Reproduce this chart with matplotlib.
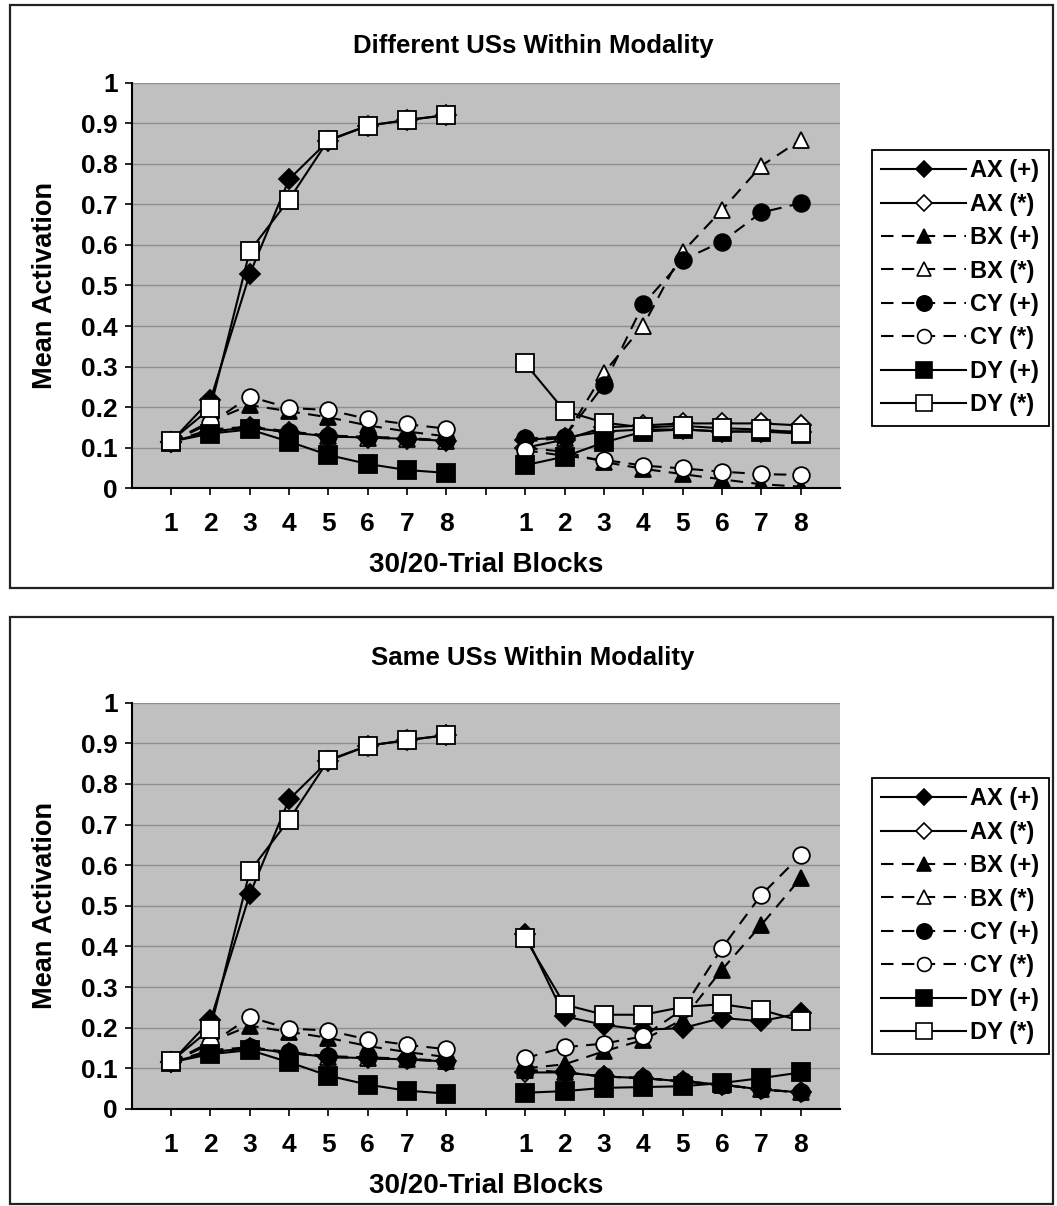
import numpy as np
import matplotlib
matplotlib.use("Agg")
import matplotlib.pyplot as plt
from matplotlib.patches import Rectangle
from matplotlib.lines import Line2D

plt.rcParams['font.family'] = ['Liberation Sans', 'DejaVu Sans']
plt.rcParams['font.weight'] = 'bold'

# block labels: 8 blocks, an empty slot, 8 blocks
block_labels = ['1', '2', '3', '4', '5', '6', '7', '8', '',
                '1', '2', '3', '4', '5', '6', '7', '8']
series_names = ['AX (+)', 'AX (*)', 'BX (+)', 'BX (*)',
                'CY (+)', 'CY (*)', 'DY (+)', 'DY (*)']

# phase 1 (identical in both panels)
p1_ax_plus = [0.115, 0.218, 0.528, 0.762, 0.857, 0.894, 0.908, 0.920]
p1_ax_star = [0.115, 0.140, 0.150, 0.138, 0.128, 0.125, 0.122, 0.117]
p1_bx_plus = [0.115, 0.165, 0.205, 0.190, 0.175, 0.155, 0.140, 0.128]
p1_bx_star = [0.115, 0.140, 0.150, 0.138, 0.128, 0.125, 0.122, 0.117]
p1_cy_plus = [0.115, 0.145, 0.152, 0.140, 0.130, 0.127, 0.124, 0.118]
p1_cy_star = [0.115, 0.160, 0.226, 0.198, 0.193, 0.171, 0.158, 0.147]
p1_dy_plus = [0.115, 0.135, 0.145, 0.115, 0.082, 0.060, 0.045, 0.038]
p1_dy_star = [0.117, 0.197, 0.585, 0.712, 0.859, 0.894, 0.908, 0.920]

# phase 2, different USs within modality
diff_ax_plus = [0.120, 0.125, 0.140, 0.145, 0.145, 0.140, 0.140, 0.140]
diff_ax_star = [0.100, 0.120, 0.150, 0.155, 0.160, 0.160, 0.160, 0.155]
diff_bx_plus = [0.100, 0.090, 0.065, 0.048, 0.035, 0.022, 0.010, 0.004]
diff_bx_star = [0.115, 0.125, 0.285, 0.401, 0.583, 0.686, 0.795, 0.859]
diff_cy_plus = [0.123, 0.127, 0.255, 0.454, 0.563, 0.608, 0.680, 0.703]
diff_cy_star = [0.094, 0.080, 0.070, 0.056, 0.049, 0.041, 0.035, 0.033]
diff_dy_plus = [0.057, 0.078, 0.113, 0.140, 0.145, 0.140, 0.140, 0.135]
diff_dy_star = [0.308, 0.191, 0.162, 0.150, 0.154, 0.148, 0.145, 0.137]

# phase 2, same USs within modality
same_ax_plus = [0.430, 0.228, 0.207, 0.195, 0.199, 0.224, 0.216, 0.236]
same_ax_star = [0.090, 0.090, 0.080, 0.076, 0.068, 0.060, 0.048, 0.041]
same_bx_plus = [0.100, 0.110, 0.142, 0.170, 0.220, 0.343, 0.453, 0.568]
same_bx_star = [0.095, 0.090, 0.080, 0.076, 0.068, 0.060, 0.048, 0.041]
same_cy_plus = [0.097, 0.090, 0.080, 0.076, 0.068, 0.060, 0.048, 0.041]
same_cy_star = [0.125, 0.152, 0.161, 0.179, 0.245, 0.396, 0.527, 0.624]
same_dy_plus = [0.040, 0.044, 0.052, 0.054, 0.056, 0.064, 0.076, 0.090]
same_dy_star = [0.420, 0.257, 0.232, 0.232, 0.251, 0.258, 0.244, 0.217]

phase1 = [p1_ax_plus, p1_ax_star, p1_bx_plus, p1_bx_star,
          p1_cy_plus, p1_cy_star, p1_dy_plus, p1_dy_star]
diff = [diff_ax_plus, diff_ax_star, diff_bx_plus, diff_bx_star,
        diff_cy_plus, diff_cy_star, diff_dy_plus, diff_dy_star]
same = [same_ax_plus, same_ax_star, same_bx_plus, same_bx_star,
        same_cy_plus, same_cy_star, same_dy_plus, same_dy_star]

dash = (0, (6, 4))
styles = [
    dict(marker='D', ms=10, mfc='black', ls='-'),
    dict(marker='D', ms=10, mfc='white', ls='-'),
    dict(marker='^', ms=12, mfc='black', ls=dash),
    dict(marker='^', ms=12, mfc='white', ls=dash),
    dict(marker='o', ms=12, mfc='black', ls=dash),
    dict(marker='o', ms=12, mfc='white', ls=dash),
    dict(marker='s', ms=13, mfc='black', ls='-'),
    dict(marker='s', ms=13, mfc='white', ls='-'),
]
legend_ms = [8, 8, 10, 10, 11, 10, 12, 11]

W, H = 1057, 1206
fig = plt.figure(figsize=(W / 100, H / 100), dpi=100)
x = np.arange(1, 18)

panels = [
    ("Different USs Within Modality", diff, 5, 588, 82.7, 488.3, 150),
    ("Same USs Within Modality", same, 617, 1204, 702.7, 1109, 778),
]

for title, phase2, fy0, fy1, ay0, ay1, ly in panels:
    fig.patches.append(Rectangle((10 / W, 1 - fy1 / H), 1043 / W, (fy1 - fy0) / H,
                                 transform=fig.transFigure, fill=False,
                                 edgecolor='#222222', lw=1.6))
    ax = fig.add_axes([131.7 / W, 1 - ay1 / H, (840 - 131.7) / W, (ay1 - ay0) / H])
    ax.set_facecolor('#c0c0c0')
    for name, a, b, st in zip(series_names, phase1, phase2, styles):
        y = np.array(a + [np.nan] + b)
        ax.plot(x, y, color='black', lw=1.5, mec='black', mew=1.3,
                label=name, **st)
    ax.set_xlim(0, 18)
    ax.set_ylim(0, 1)
    ax.set_yticks(np.arange(0, 1.01, 0.1))
    ax.set_yticklabels(['0', '0.1', '0.2', '0.3', '0.4', '0.5',
                        '0.6', '0.7', '0.8', '0.9', '1'])
    ax.set_xticks(x)
    ax.set_xticklabels(block_labels)
    ax.yaxis.grid(True, color='#8e8e8e', lw=1)
    ax.set_axisbelow(True)
    for s in ['top', 'right']:
        ax.spines[s].set_visible(False)
    for s in ['left', 'bottom']:
        ax.spines[s].set_linewidth(1.5)
    ax.tick_params(axis='y', direction='out', length=5, width=1.2,
                   labelsize=19, pad=5)
    ax.tick_params(axis='x', direction='out', length=5, width=1.2,
                   labelsize=19, pad=12)

    fig.text(533 / W, 1 - (fy0 + 41) / H, title, ha='center', va='center',
             fontsize=18.5, fontweight='bold')
    fig.text(45 / W, 1 - (ay0 + ay1) / 2 / H, 'Mean Activation', rotation=90,
             ha='center', va='center', fontsize=19.5, fontweight='bold')
    fig.text(486 / W, 1 - (ay1 + 77) / H, '30/20-Trial Blocks',
             ha='center', va='center', fontsize=20, fontweight='bold')

    handles = []
    for name, st, lms in zip(series_names, styles, legend_ms):
        handles.append(Line2D([], [], color='black', lw=1.5, mec='black', mew=1.2,
                              marker=st['marker'], ms=lms,
                              mfc=st['mfc'], ls=st['ls']))
    leg = fig.legend(handles, series_names, loc='upper left',
                     bbox_to_anchor=(872 / W, 1 - ly / H), borderaxespad=0,
                     fancybox=False, framealpha=1, edgecolor='black',
                     fontsize=17, handlelength=3.6, handletextpad=0.15,
                     labelspacing=0.44, borderpad=0.4)
    leg.get_frame().set_linewidth(1.3)

fig.savefig('out.png', dpi=100)
